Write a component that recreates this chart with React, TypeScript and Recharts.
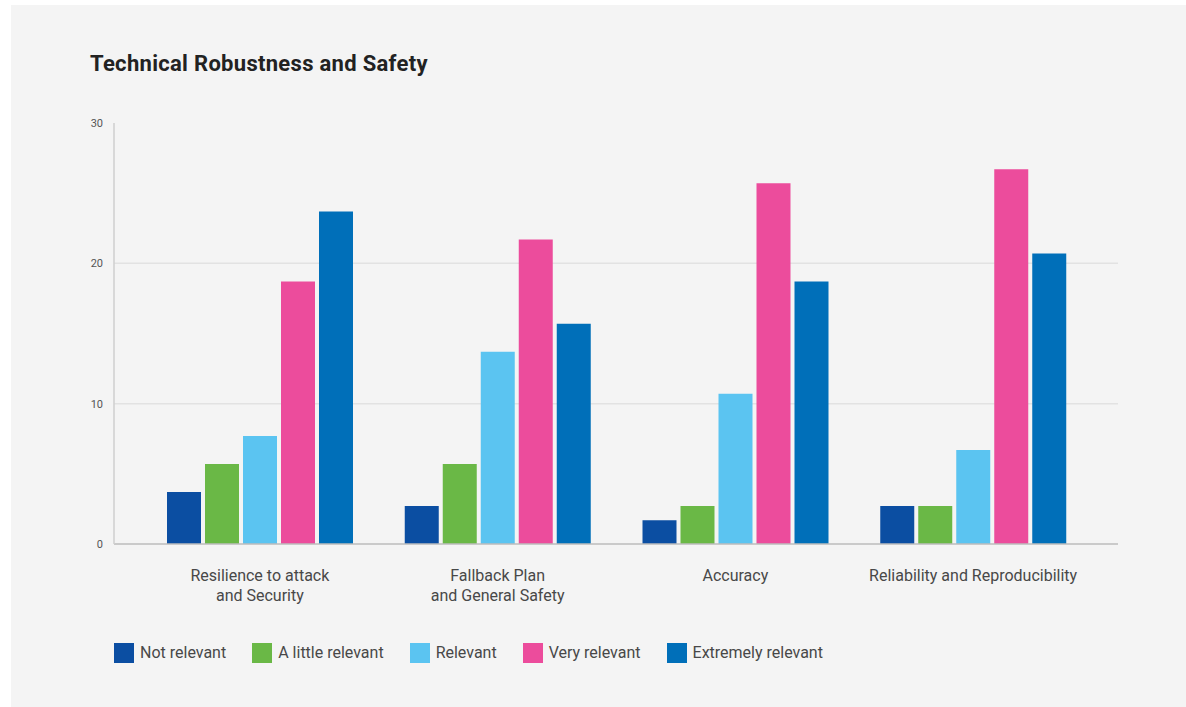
import React from 'react'
import { BarChart, Bar, XAxis, YAxis, CartesianGrid } from 'recharts'

const categories = [
  'Resilience to attack\nand Security',
  'Fallback Plan\nand General Safety',
  'Accuracy',
  'Reliability and Reproducibility',
]

const notRelevant = [3.7, 2.7, 1.7, 2.7]
const littleRelevant = [5.7, 5.7, 2.7, 2.7]
const relevant = [7.7, 13.7, 10.7, 6.7]
const veryRelevant = [18.7, 21.7, 25.7, 26.7]
const extremelyRelevant = [23.7, 15.7, 18.7, 20.7]

const yTicks = [0, 10, 20, 30]

const seriesList = [
  { key: 'notRelevant', name: 'Not relevant', color: '#0b4ea2', values: notRelevant },
  { key: 'littleRelevant', name: 'A little relevant', color: '#6ab846', values: littleRelevant },
  { key: 'relevant', name: 'Relevant', color: '#5bc4f1', values: relevant },
  { key: 'veryRelevant', name: 'Very relevant', color: '#ec4c9c', values: veryRelevant },
  { key: 'extremelyRelevant', name: 'Extremely relevant', color: '#006fb9', values: extremelyRelevant },
]

const data = categories.map((name, i) => {
  const row: Record<string, string | number> = { name }
  seriesList.forEach((s) => {
    row[s.key] = s.values[i]
  })
  return row
})

const FONT = 'Roboto, "Open Sans", sans-serif'

// two line category labels
const CategoryTick = ({ x, y, payload }: any) => {
  const lines = String(payload.value).split('\n')
  return (
    <text x={x} y={y} textAnchor="middle" fill="#484848" fontSize={16} fontFamily={FONT}>
      {lines.map((line, i) => (
        <tspan key={i} x={x} y={y + 35 + i * 20}>
          {line}
        </tspan>
      ))}
    </text>
  )
}

// legend kept outside the chart so it doesn't shrink the plot area
const ChartLegend = () => (
  <div
    style={{
      position: 'absolute',
      left: 114,
      top: 643,
      display: 'flex',
      alignItems: 'center',
      fontFamily: FONT,
      fontSize: 16,
      color: '#484848',
    }}
  >
    {seriesList.map((s) => (
      <div key={s.key} style={{ display: 'flex', alignItems: 'center', marginRight: 26 }}>
        <span style={{ width: 20, height: 20, background: s.color, display: 'inline-block', marginRight: 6 }} />
        <span style={{ lineHeight: '20px' }}>{s.name}</span>
      </div>
    ))}
  </div>
)

export default function App() {
  return (
    <div style={{ position: 'relative', width: 1186, height: 707, background: '#fff', overflow: 'hidden' }}>
      <style>{'body{margin:0}'}</style>
      <div style={{ position: 'absolute', left: 11, top: 5, width: 1175, height: 702, background: '#f4f4f4' }} />
      <div
        style={{
          position: 'absolute',
          left: 90,
          top: 53,
          fontFamily: FONT,
          fontSize: 22,
          lineHeight: '22px',
          fontWeight: 700,
          letterSpacing: 0.3,
          color: '#222',
        }}
      >
        Technical Robustness and Safety
      </div>
      <div style={{ position: 'absolute', left: 0, top: 0 }}>
        <BarChart
          width={1186}
          height={707}
          data={data}
          margin={{ top: 123, right: 68, bottom: 103, left: 0 }}
          barSize={34}
          barGap={4}
        >
          <CartesianGrid vertical={false} horizontalValues={[10, 20]} stroke="#e2e2e2" strokeWidth={1.5} />
          <XAxis
            dataKey="name"
            interval={0}
            height={60}
            padding={{ left: 27, right: 26 }}
            tickLine={false}
            tickSize={0}
            axisLine={{ stroke: '#bdbdbd', strokeWidth: 1.5 }}
            tick={<CategoryTick />}
          />
          <YAxis
            width={114}
            domain={[0, 30]}
            ticks={yTicks}
            tickLine={false}
            tickMargin={5}
            axisLine={{ stroke: '#cfcfcf', strokeWidth: 1.5 }}
            tick={{ fill: '#555', fontSize: 11, fontFamily: FONT }}
          />
          {seriesList.map((s) => (
            <Bar key={s.key} dataKey={s.key} name={s.name} fill={s.color} isAnimationActive={false} />
          ))}
        </BarChart>
      </div>
      <ChartLegend />
    </div>
  )
}
